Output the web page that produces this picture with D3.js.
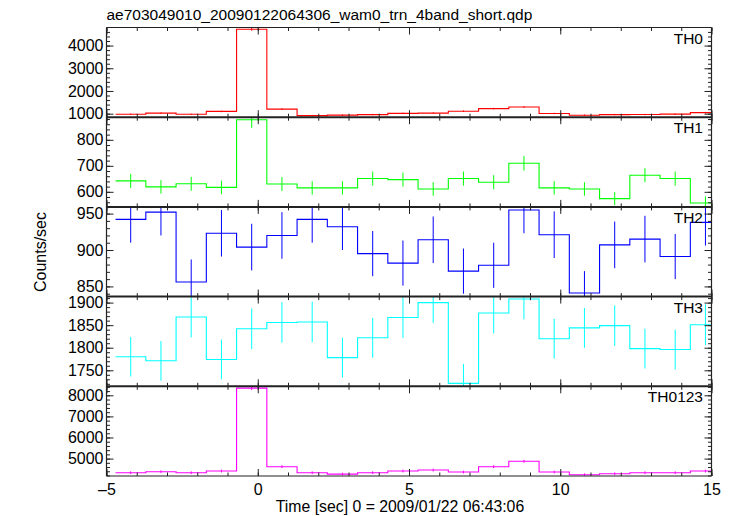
<!DOCTYPE html>
<html><head><meta charset="utf-8">
<script src="https://cdn.jsdelivr.net/npm/d3@7"></script>
<style>
body{margin:0;background:#fff}
svg{display:block}
text{font-family:"Liberation Sans",Arial,Helvetica,sans-serif;fill:#000}
</style>
</head><body>
<svg id="chart" width="733" height="516"></svg>
<script>
// ---- data ----
const title = "ae703049010_20090122064306_wam0_trn_4band_short.qdp";
const xLabel = "Time [sec] 0 = 2009/01/22 06:43:06";
const yLabel = "Counts/sec";
const binCenters = [-4.2,-3.2,-2.2,-1.2,-0.2,0.8,1.8,2.8,3.8,4.8,5.8,6.8,7.8,8.8,9.8,10.8,11.8,12.8,13.8,14.8];
const binHalfWidth = 0.5;

const th0     = [975,1025,972,1100,4720,1200,915,935,960,1015,1025,1110,1223,1297,1010,932,960,962,980,1045];
const th0Err  = [31,32,31,33,69,35,30,31,31,32,32,33,35,36,32,31,31,31,31,32];
const th1     = [642,619,631,617,877,630,615,615,651,647,611,651,637,710,615,611,574,664,651,557];
const th1Err  = [27,26,27,26,31,27,26,26,27,27,26,27,27,28,26,26,25,27,27,25];
const th2     = [942,952,856,923,904,920,942,932,895,882,914,871,879,955,921,841,907,915,891,938];
const th2Err  = [32,32,31,32,32,32,32,32,31,31,32,31,31,32,32,30,32,32,31,32];
const th3     = [1780,1771,1868,1774,1842,1856,1857,1778,1822,1867,1900,1721,1877,1908,1820,1844,1849,1798,1796,1851];
const th3Err  = [44,44,45,44,45,45,45,44,44,45,45,43,45,45,44,44,45,44,44,45];
const th0123  = [4330,4378,4330,4410,8340,4617,4330,4266,4330,4410,4458,4362,4617,4872,4362,4234,4282,4330,4330,4410];
const th0123Err = [66,66,66,67,92,68,66,65,66,67,67,66,68,70,66,65,66,66,66,67];

const panelNames = ["TH0","TH1","TH2","TH3","TH0123"];
const panelValues = [th0, th1, th2, th3, th0123];
const panelErrors = [th0Err, th1Err, th2Err, th3Err, th0123Err];
const panelColors = ["#ff0000","#00ff00","#0000ff","#00ffff","#ff00ff"];
const yDomains = [[845,4795],[542,887],[836,959.2],[1714.5,1913.3],[4175,8427]];
const yMajorTicks = [[1000,2000,3000,4000],[600,700,800],[850,900,950],[1750,1800,1850,1900],[5000,6000,7000,8000]];
const yMinorStep = [200,20,10,10,200];
const xDomain = [-5,15];
const xMajorTicks = [-5,0,5,10,15];
const xMinorTicks = d3.range(-5,16,1);

// ---- layout ----
const L = 106.5, R = 711.5, TOP = 27.5, BOTTOM = 476;
const PH = (BOTTOM - TOP) / 5;
const svg = d3.select("#chart");
const x = d3.scaleLinear().domain(xDomain).range([L, R]);
const axisColor = "#222";

const defs = svg.append("defs");

panelNames.forEach((name, i) => {
  const top = TOP + i * PH, bot = top + PH;
  const y = d3.scaleLinear().domain(yDomains[i]).range([bot, top]);
  const g = svg.append("g");

  defs.append("clipPath").attr("id", "clip" + i)
    .append("rect").attr("x", L).attr("y", top).attr("width", R - L).attr("height", PH);

  const vals = panelValues[i], errs = panelErrors[i];
  const pts = binCenters.map((c, k) => [c - binHalfWidth, vals[k]]);
  pts.push([binCenters[binCenters.length - 1] + binHalfWidth, vals[vals.length - 1]]);
  const line = d3.line().x(d => x(d[0])).y(d => y(d[1])).curve(d3.curveStepAfter);

  const dg = g.append("g").attr("clip-path", "url(#clip" + i + ")");
  dg.append("path").attr("d", line(pts)).attr("fill", "none")
    .attr("stroke", panelColors[i]).attr("stroke-width", 1.1);
  dg.selectAll("line.err").data(binCenters).join("line").attr("class", "err")
    .attr("x1", c => x(c)).attr("x2", c => x(c))
    .attr("y1", (c, k) => y(vals[k] - errs[k]))
    .attr("y2", (c, k) => y(vals[k] + errs[k]))
    .attr("stroke", panelColors[i]).attr("stroke-width", 1);

  // y axes
  const minor = d3.range(Math.ceil(yDomains[i][0] / yMinorStep[i]) * yMinorStep[i], yDomains[i][1], yMinorStep[i]);
  const ax = (gen, xpos, ticks, size, fmt) => {
    const a = g.append("g").attr("transform", `translate(${xpos},0)`)
      .call(gen(y).tickValues(ticks).tickSize(-size).tickPadding(3).tickFormat(fmt));
    a.select(".domain").remove();
    a.selectAll(".tick line").attr("stroke", axisColor);
    return a;
  };
  const la = ax(d3.axisLeft, L, yMajorTicks[i], 7, d3.format("d"));
  la.selectAll("text").style("font-size", "16px").attr("fill", "#000");
  ax(d3.axisLeft, L, minor, 3.5, "");
  ax(d3.axisRight, R, yMajorTicks[i], 7, "");
  ax(d3.axisRight, R, minor, 3.5, "");

  // x ticks top/bottom
  const xax = (gen, ypos, ticks, size, fmt) => {
    const a = g.append("g").attr("transform", `translate(0,${ypos})`)
      .call(gen(x).tickValues(ticks).tickSize(-size).tickPadding(8).tickFormat(fmt));
    a.select(".domain").remove();
    a.selectAll(".tick line").attr("stroke", axisColor);
    return a;
  };
  xax(d3.axisTop, top, xMajorTicks, 7, "");
  xax(d3.axisTop, top, xMinorTicks, 3.5, "");
  const bx = xax(d3.axisBottom, bot, xMajorTicks, 7, i === 4 ? (d => d < 0 ? "\u2013" + Math.abs(d) : d) : "");
  xax(d3.axisBottom, bot, xMinorTicks, 3.5, "");
  if (i === 4) bx.selectAll("text").style("font-size", "16px").attr("fill", "#000");

  g.append("text").attr("x", 703).attr("y", top + 16).attr("text-anchor", "end")
    .style("font-size", "15.5px").text(name);
});

// frame
svg.append("line").attr("x1", L).attr("x2", R).attr("y1", TOP).attr("y2", TOP).attr("stroke", axisColor).attr("stroke-width", 1.2);
svg.append("line").attr("x1", L).attr("x2", R).attr("y1", BOTTOM).attr("y2", BOTTOM).attr("stroke", axisColor).attr("stroke-width", 1.2);
svg.append("line").attr("x1", L).attr("x2", L).attr("y1", TOP).attr("y2", BOTTOM).attr("stroke", axisColor).attr("stroke-width", 1.2);
svg.append("line").attr("x1", R).attr("x2", R).attr("y1", TOP).attr("y2", BOTTOM).attr("stroke", axisColor).attr("stroke-width", 1.2);
d3.range(1, 5).forEach(k => {
  const yy = TOP + k * PH;
  svg.append("line").attr("x1", L).attr("x2", R).attr("y1", yy).attr("y2", yy).attr("stroke", axisColor).attr("stroke-width", 2);
});

// labels
svg.append("text").attr("x", L).attr("y", 19.5).style("font-size", "15.5px").text(title);
svg.append("text").attr("x", 400).attr("y", 512).attr("text-anchor", "middle").style("font-size", "15.8px").text(xLabel);
svg.append("text").attr("transform", "translate(46,252) rotate(-90)").attr("text-anchor", "middle")
  .style("font-size", "16px").text(yLabel);
</script>
</body></html>
